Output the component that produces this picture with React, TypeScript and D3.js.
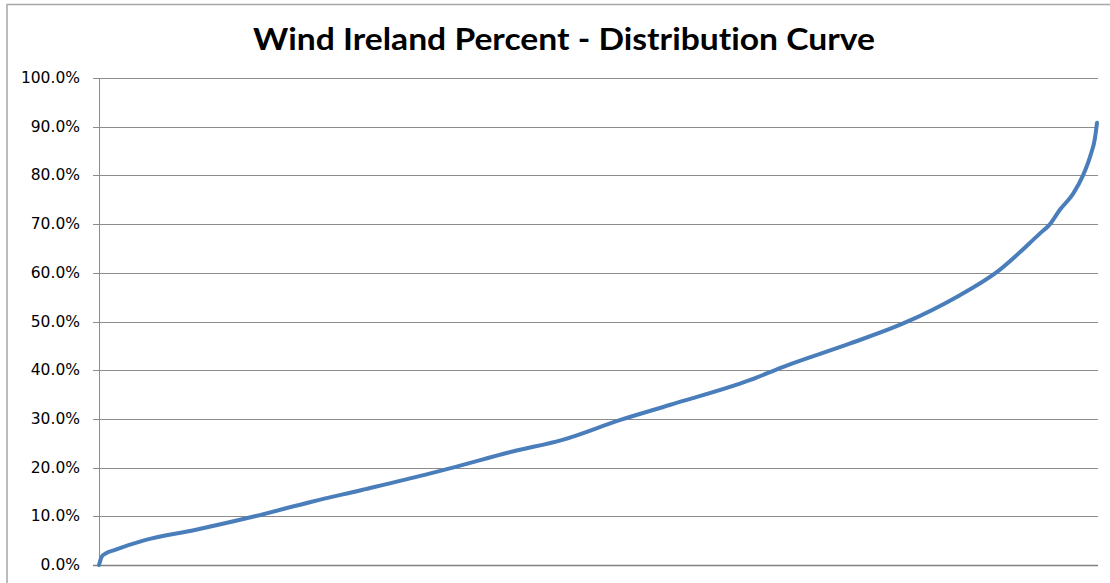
import React, { useEffect, useRef } from "react";
import * as d3 from "d3";

// share of hours (sorted), percent of the x range
const hoursPct = [0, 0.27, 0.6, 1.6, 4.6, 9.6, 15.6, 21.3, 26.3, 32.6, 35.8, 41.4, 46.4, 52.2, 57.2, 65.2, 68.5, 75.2, 80.5, 85.9, 89.9, 94.2, 95.2, 96.2, 97.5, 98.5, 99.2, 99.7, 99.9];
// wind output percent
const windPct = [0, 1.7, 2.3, 3.1, 5.1, 7.2, 10.0, 13.0, 15.4, 18.5, 20.2, 23.3, 25.7, 29.8, 32.9, 38.0, 40.7, 45.5, 49.6, 55.1, 60.2, 68.1, 70.0, 73.0, 76.2, 80.0, 83.8, 87.7, 90.8];
const yTicks = [0, 10, 20, 30, 40, 50, 60, 70, 80, 90, 100];
const title = "Wind Ireland Percent - Distribution Curve";

export default function App() {
  const svgRef = useRef(null);

  useEffect(() => {
    const width = 1110;
    const height = 583;
    const svg = d3.select(svgRef.current)
      .attr("width", width)
      .attr("height", height);

    svg.selectAll("*").remove();

    const margin = { left: 99, top: 78, right: 12, bottom: 18 };

    // outer chart frame
    svg.append("rect")
      .attr("x", 7)
      .attr("y", 4.5)
      .attr("width", 1120)
      .attr("height", 620)
      .attr("fill", "#fff")
      .attr("stroke", "#a6a6a6")
      .attr("stroke-width", 1.5);

    svg.append("text")
      .attr("x", 564)
      .attr("y", 50)
      .attr("text-anchor", "middle")
      .attr("textLength", 622)
      .attr("lengthAdjust", "spacingAndGlyphs")
      .style("font-family", "Lato, 'Open Sans', sans-serif")
      .style("font-weight", "bold")
      .style("font-size", "31px")
      .style("font-variant-ligatures", "none")
      .attr("fill", "#000")
      .text(title);

    const xScale = d3.scaleLinear()
      .domain([0, 100])
      .range([margin.left, width - margin.right]);
    const yScale = d3.scaleLinear()
      .domain([0, 100])
      .range([height - margin.bottom, margin.top]);

    // gridlines
    svg.append("g")
      .selectAll("line")
      .data(yTicks)
      .join("line")
      .attr("x1", margin.left - 6)
      .attr("x2", width - margin.right)
      .attr("y1", (d) => Math.round(yScale(d)) + 0.5)
      .attr("y2", (d) => Math.round(yScale(d)) + 0.5)
      .attr("stroke", (d) => (d === 0 ? "#808080" : "#8c8c8c"))
      .attr("stroke-width", (d) => (d === 0 ? 1.5 : 1));

    // y axis line
    svg.append("line")
      .attr("x1", margin.left + 0.5)
      .attr("x2", margin.left + 0.5)
      .attr("y1", margin.top)
      .attr("y2", height - margin.bottom)
      .attr("stroke", "#8c8c8c");

    svg.append("g")
      .selectAll("text")
      .data(yTicks)
      .join("text")
      .attr("x", 80)
      .attr("y", (d) => yScale(d) + 5)
      .attr("text-anchor", "end")
      .style("font-family", "'DejaVu Sans', sans-serif")
      .style("font-size", "15.5px")
      .attr("fill", "#000")
      .text((d) => d3.format(".1f")(d) + "%");

    const points = hoursPct.map((h, i) => [h, windPct[i]]);
    const line = d3.line()
      .x((d) => xScale(d[0]))
      .y((d) => yScale(d[1]))
      .curve(d3.curveMonotoneX);

    svg.append("path")
      .datum(points)
      .attr("d", line)
      .attr("fill", "none")
      .attr("stroke", "#4a7ebb")
      .attr("stroke-width", 4)
      .attr("stroke-linecap", "round")
      .attr("stroke-linejoin", "round");
  }, []);

  return (
    <svg ref={svgRef} style={{ position: "absolute", left: 0, top: 0, display: "block" }} />
  );
}
